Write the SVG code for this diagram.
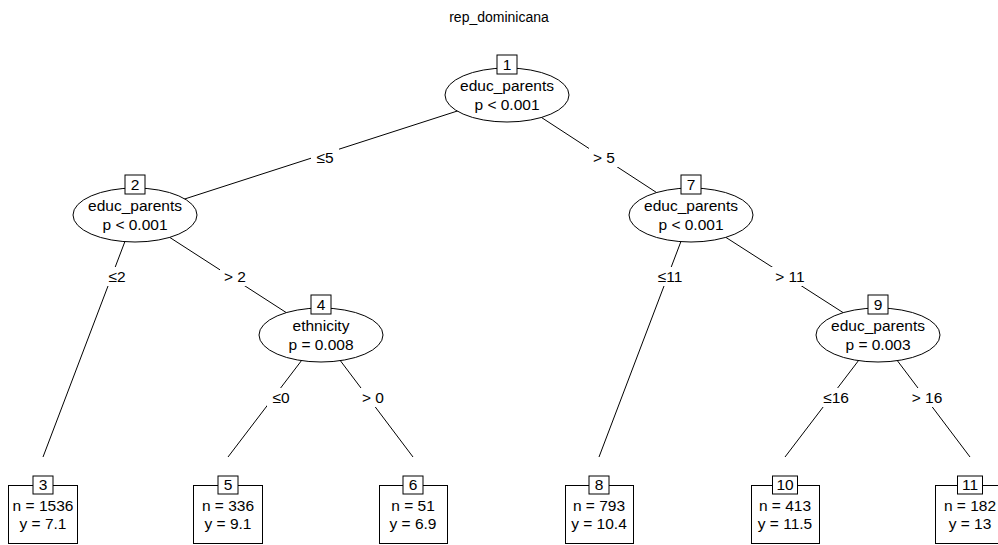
<svg xmlns="http://www.w3.org/2000/svg" width="998" height="545" viewBox="0 0 998 545">
  <style>
    text { font-family: "Liberation Sans", Arial, sans-serif; fill: #000; }
    .title { font-size: 14px; text-anchor: middle; }
    .t { font-size: 15.5px; text-anchor: middle; }
    .edge { stroke: #000; stroke-width: 1; fill: none; }
    .ell { fill: #fff; stroke: #000; stroke-width: 1; }
    .box { fill: #fff; stroke: #000; stroke-width: 1; }
    .lbg { fill: #fff; stroke: none; }
  </style>
  <rect width="998" height="545" fill="#fff"/>
  <text class="title" x="499" y="22">rep_dominicana</text>

  <g id="edges">
    <line class="edge" x1="507" y1="95" x2="135" y2="215"/>
    <line class="edge" x1="507" y1="95" x2="691" y2="215"/>
    <line class="edge" x1="135" y1="215" x2="43" y2="457"/>
    <line class="edge" x1="135" y1="215" x2="321" y2="335"/>
    <line class="edge" x1="321" y1="335" x2="228" y2="457"/>
    <line class="edge" x1="321" y1="335" x2="413" y2="457"/>
    <line class="edge" x1="691" y1="215" x2="599" y2="457"/>
    <line class="edge" x1="691" y1="215" x2="878" y2="335"/>
    <line class="edge" x1="878" y1="335" x2="785" y2="457"/>
    <line class="edge" x1="878" y1="335" x2="970" y2="457"/>

    <rect class="lbg" x="311" y="148" width="28" height="19"/>
    <text class="t" x="325" y="163">≤5</text>
    <rect class="lbg" x="589" y="148" width="30" height="19"/>
    <text class="t" x="604" y="163">&gt; 5</text>

    <rect class="lbg" x="103" y="267" width="28" height="19"/>
    <text class="t" x="117" y="282">≤2</text>
    <rect class="lbg" x="220" y="267" width="30" height="19"/>
    <text class="t" x="235" y="282">&gt; 2</text>

    <rect class="lbg" x="652" y="267" width="36" height="19"/>
    <text class="t" x="670" y="282">≤11</text>
    <rect class="lbg" x="771" y="267" width="38" height="19"/>
    <text class="t" x="790" y="282">&gt; 11</text>

    <rect class="lbg" x="267" y="388" width="28" height="19"/>
    <text class="t" x="281" y="403">≤0</text>
    <rect class="lbg" x="358" y="388" width="30" height="19"/>
    <text class="t" x="373" y="403">&gt; 0</text>

    <rect class="lbg" x="818" y="388" width="36" height="19"/>
    <text class="t" x="836" y="403">≤16</text>
    <rect class="lbg" x="908" y="388" width="38" height="19"/>
    <text class="t" x="927" y="403">&gt; 16</text>
  </g>

  <g id="node1">
    <ellipse class="ell" cx="507" cy="95" rx="62" ry="27"/>
    <rect class="box" x="497" y="55" width="20" height="19"/>
    <text class="t" x="507" y="70">1</text>
    <text class="t" x="507" y="91">educ_parents</text>
    <text class="t" x="507" y="110">p &lt; 0.001</text>
  </g>

  <g id="node2">
    <ellipse class="ell" cx="135" cy="215" rx="62" ry="27"/>
    <rect class="box" x="125" y="175" width="20" height="19"/>
    <text class="t" x="135" y="190">2</text>
    <text class="t" x="135" y="211">educ_parents</text>
    <text class="t" x="135" y="230">p &lt; 0.001</text>
  </g>

  <g id="node4">
    <ellipse class="ell" cx="321" cy="335" rx="62" ry="27"/>
    <rect class="box" x="311" y="295" width="20" height="19"/>
    <text class="t" x="321" y="310">4</text>
    <text class="t" x="321" y="331">ethnicity</text>
    <text class="t" x="321" y="350">p = 0.008</text>
  </g>

  <g id="node7">
    <ellipse class="ell" cx="691" cy="215" rx="62" ry="27"/>
    <rect class="box" x="681" y="175" width="20" height="19"/>
    <text class="t" x="691" y="190">7</text>
    <text class="t" x="691" y="211">educ_parents</text>
    <text class="t" x="691" y="230">p &lt; 0.001</text>
  </g>

  <g id="node9">
    <ellipse class="ell" cx="878" cy="335" rx="62" ry="27"/>
    <rect class="box" x="868" y="295" width="20" height="19"/>
    <text class="t" x="878" y="310">9</text>
    <text class="t" x="878" y="331">educ_parents</text>
    <text class="t" x="878" y="350">p = 0.003</text>
  </g>

  <g id="node3">
    <rect class="box" x="8.5" y="485.5" width="69" height="58"/>
    <rect class="box" x="33" y="476" width="20" height="18"/>
    <text class="t" x="43" y="490">3</text>
    <text class="t" x="43" y="511">n = 1536</text>
    <text class="t" x="43" y="529">y = 7.1</text>
  </g>

  <g id="node5">
    <rect class="box" x="193.5" y="485.5" width="69" height="58"/>
    <rect class="box" x="218" y="476" width="20" height="18"/>
    <text class="t" x="228" y="490">5</text>
    <text class="t" x="228" y="511">n = 336</text>
    <text class="t" x="228" y="529">y = 9.1</text>
  </g>

  <g id="node6">
    <rect class="box" x="379.5" y="485.5" width="68" height="58"/>
    <rect class="box" x="403" y="476" width="20" height="18"/>
    <text class="t" x="413" y="490">6</text>
    <text class="t" x="413" y="511">n = 51</text>
    <text class="t" x="413" y="529">y = 6.9</text>
  </g>

  <g id="node8">
    <rect class="box" x="565.5" y="485.5" width="68" height="58"/>
    <rect class="box" x="589" y="476" width="20" height="18"/>
    <text class="t" x="599" y="490">8</text>
    <text class="t" x="599" y="511">n = 793</text>
    <text class="t" x="599" y="529">y = 10.4</text>
  </g>

  <g id="node10">
    <rect class="box" x="751.5" y="485.5" width="68" height="58"/>
    <rect class="box" x="772.5" y="476" width="25" height="18"/>
    <text class="t" x="785" y="490">10</text>
    <text class="t" x="785" y="511">n = 413</text>
    <text class="t" x="785" y="529">y = 11.5</text>
  </g>

  <g id="node11">
    <rect class="box" x="935.5" y="485.5" width="69" height="58"/>
    <rect class="box" x="957.5" y="476" width="25" height="18"/>
    <text class="t" x="970" y="490">11</text>
    <text class="t" x="970" y="511">n = 182</text>
    <text class="t" x="970" y="529">y = 13</text>
  </g>
</svg>
